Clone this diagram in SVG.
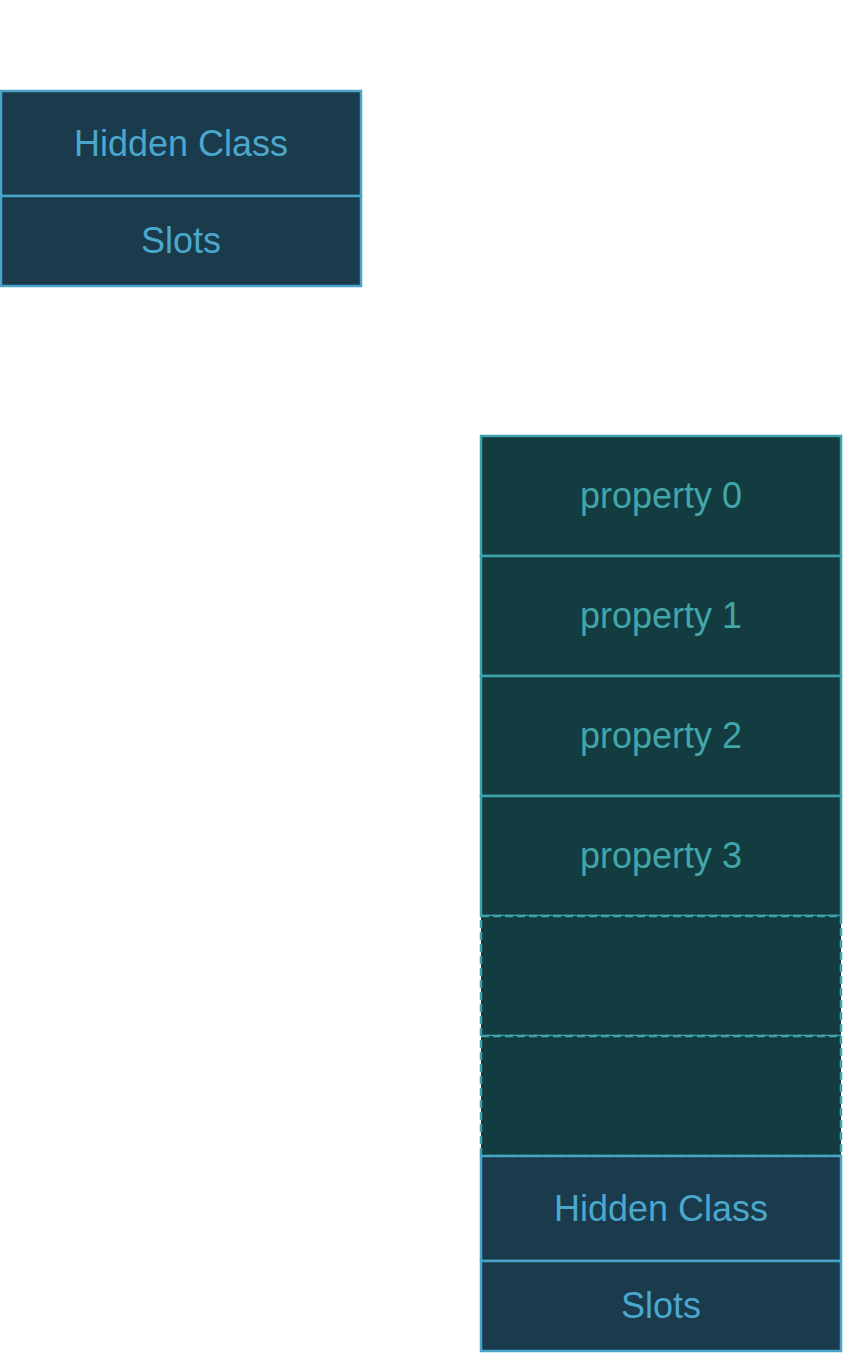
<svg xmlns="http://www.w3.org/2000/svg" width="843" height="1353" viewBox="0 0 843 1353">
<style>
.hc rect{fill:#193b4b;stroke:#4aa3c8;stroke-width:2.5}
.hc text{fill:#4ba7cd}
.pr rect{fill:#123c40;stroke:#3fa2a8;stroke-width:2.5}
.pr text{fill:#42a5aa}
.dash rect{fill:#123c40;stroke:#3fa2a8;stroke-width:2.5;stroke-dasharray:8 4}
text{font-family:"Liberation Sans",Arial,sans-serif;font-size:36px;text-anchor:middle}
.conn{fill:none;stroke:#ffffff;stroke-width:2}
</style>
<rect width="843" height="1353" fill="#ffffff"/>
<g id="connectors">
<path class="conn" d="M181,287 L181,360 L660,360 L660,436"/>
</g>
<g id="obj1-hidden-class" class="hc"><rect x="1" y="91" width="360" height="105"/><text x="181" y="156">Hidden Class</text></g>
<g id="obj1-slots" class="hc"><rect x="1" y="196" width="360" height="90"/><text x="181" y="253">Slots</text></g>
<g id="property-0" class="pr"><rect x="481" y="436" width="360" height="120"/><text x="661" y="508">property 0</text></g>
<g id="property-1" class="pr"><rect x="481" y="556" width="360" height="120"/><text x="661" y="628">property 1</text></g>
<g id="property-2" class="pr"><rect x="481" y="676" width="360" height="120"/><text x="661" y="748">property 2</text></g>
<g id="property-3" class="pr"><rect x="481" y="796" width="360" height="120"/><text x="661" y="868">property 3</text></g>
<g id="empty-slot-1" class="dash"><rect x="481" y="916" width="360" height="120"/></g>
<g id="empty-slot-2" class="dash"><rect x="481" y="1036" width="360" height="120"/></g>
<g id="obj2-hidden-class" class="hc"><rect x="481" y="1156" width="360" height="105"/><text x="661" y="1221">Hidden Class</text></g>
<g id="obj2-slots" class="hc"><rect x="481" y="1261" width="360" height="90"/><text x="661" y="1318">Slots</text></g>
</svg>
